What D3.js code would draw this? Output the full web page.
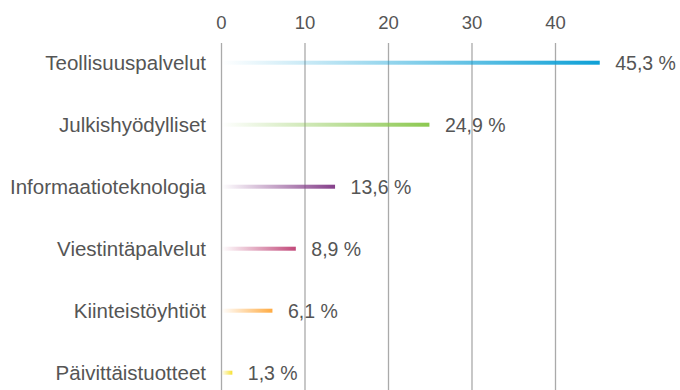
<!DOCTYPE html>
<html>
<head>
<meta charset="utf-8">
<script src="https://cdn.jsdelivr.net/npm/d3@7"></script>
<style>
body{margin:0;background:#fff}
text{font-family:"Liberation Sans",Arial,Helvetica,sans-serif;fill:#555}
</style>
</head>
<body>
<script>
var categories = ["Teollisuuspalvelut","Julkishyödylliset","Informaatioteknologia","Viestintäpalvelut","Kiinteistöyhtiöt","Päivittäistuotteet"]
var values = [45.3, 24.9, 13.6, 8.9, 6.1, 1.3]
var valueLabels = ["45,3 %","24,9 %","13,6 %","8,9 %","6,1 %","1,3 %"]
var barColors = ["#0ea0d6","#8cc850","#853f8a","#c2497a","#ffab42","#f7e132"]
var ticks = [0,10,20,30,40]

var width=680, height=390
var svg=d3.select("body").append("svg").attr("width",width).attr("height",height)

var scaleX=d3.scaleLinear().domain([0,10]).range([221.5,305])
var scaleY=d3.scaleBand().domain(categories).range([31.7,403.7])

var defs=svg.append("defs")
categories.forEach(function(c,i){
	var g=defs.append("linearGradient").attr("id","grad"+i)
		.attr("x1","0%").attr("x2","100%").attr("y1","0%").attr("y2","0%")
	g.append("stop").attr("offset","0%").attr("stop-color",barColors[i]).attr("stop-opacity",0)
	g.append("stop").attr("offset","100%").attr("stop-color",barColors[i]).attr("stop-opacity",1)
})

// grid
svg.append("g").selectAll("line").data(ticks).enter().append("line")
	.attr("x1",function(d){return scaleX(d)}).attr("x2",function(d){return scaleX(d)})
	.attr("y1",43).attr("y2",height)
	.attr("stroke","#aaa").attr("stroke-width",1.3)

// top axis labels
svg.append("g").selectAll("text").data(ticks).enter().append("text")
	.attr("x",function(d){return scaleX(d)}).attr("y",28.5)
	.attr("text-anchor","middle").attr("font-size",18.5)
	.text(function(d){return d})

var cy=function(d){return scaleY(d)+scaleY.bandwidth()/2}

svg.append("g").selectAll("rect").data(categories).enter().append("rect")
	.attr("x",scaleX(0))
	.attr("y",function(d){return cy(d)-2})
	.attr("width",function(d,i){return scaleX(values[i])-scaleX(0)})
	.attr("height",4)
	.attr("fill",function(d,i){return "url(#grad"+i+")"})

svg.append("g").selectAll("text").data(categories).enter().append("text")
	.attr("x",206).attr("y",function(d){return cy(d)+7.5})
	.attr("text-anchor","end").attr("font-size",20.5)
	.text(function(d){return d})

svg.append("g").selectAll("text").data(categories).enter().append("text")
	.attr("x",function(d,i){return scaleX(values[i])+15.5})
	.attr("y",function(d){return cy(d)+7.5})
	.attr("font-size",19.5)
	.text(function(d,i){return valueLabels[i]})
</script>
</body>
</html>
